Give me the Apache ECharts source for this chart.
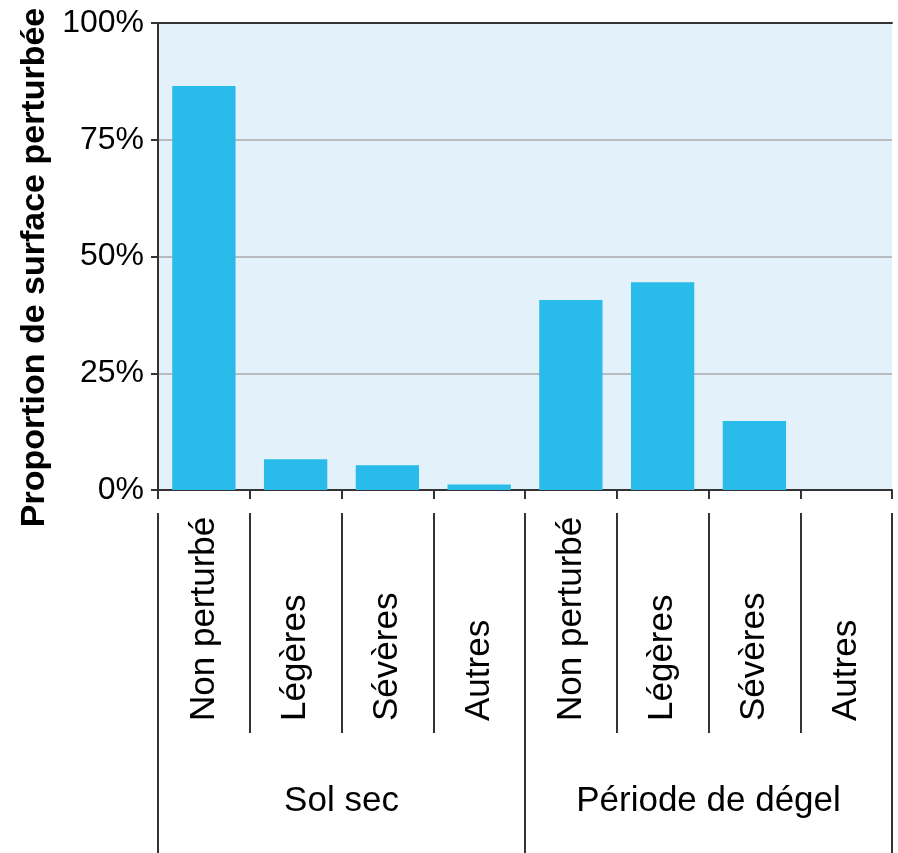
<!DOCTYPE html>
<html><head><meta charset="utf-8">
<script src="https://cdn.jsdelivr.net/npm/echarts@6/dist/echarts.min.js"></script>
<style>html,body{margin:0;padding:0;background:#fff}#c{width:898px;height:853px}</style>
</head><body><div id="c"></div>
<script>
const categories = ['Non perturbé','Légères','Sévères','Autres','Non perturbé','Légères','Sévères','Autres'];
const groups = ['Sol sec','Période de dégel'];
const solSec = [86.5, 6.6, 5.3, 1.2];
const degel = [40.7, 44.5, 14.8, 0];
const yTicks = [0, 25, 50, 75, 100];
const values = solSec.concat(degel);

const font = 'Liberation Sans, Arial, Helvetica, sans-serif';
const dark = '#333333';
const chart = echarts.init(document.getElementById('c'));
chart.setOption({
  animation: false,
  textStyle: {fontFamily: font},
  grid: {left: 158, top: 23, right: 6, bottom: 363, show: true, backgroundColor: '#e3f2fa', borderWidth: 0},
  xAxis: [
    {type: 'category', data: categories, position: 'bottom', gridIndex: 0,
     axisLine: {lineStyle: {color: dark, width: 2}},
     axisTick: {show: true, length: 9, interval: 0, lineStyle: {color: dark, width: 2}},
     axisLabel: {interval: 0, rotate: 90, align: 'left', verticalAlign: 'middle', margin: 231,
                 fontSize: 35, color: '#000', fontFamily: font}},
    {type: 'category', data: categories, position: 'bottom', offset: 23, gridIndex: 0,
     axisLine: {show: false},
     axisTick: {show: true, length: 220, interval: 0, lineStyle: {color: dark, width: 2}},
     axisLabel: {show: false}},
    {type: 'category', data: groups, position: 'bottom', offset: 23, gridIndex: 0,
     axisLine: {show: false},
     axisTick: {show: true, length: 345, interval: 0, lineStyle: {color: dark, width: 2}},
     axisLabel: {interval: 0, margin: 288, verticalAlign: 'middle', fontSize: 35, color: '#000', fontFamily: font}},
    {type: 'category', data: categories, position: 'top', gridIndex: 0,
     axisLine: {show: true, lineStyle: {color: dark, width: 2}},
     axisTick: {show: false}, axisLabel: {show: false}}
  ],
  yAxis: {
    type: 'value', min: yTicks[0], max: yTicks[yTicks.length - 1], interval: 25,
    name: 'Proportion de surface perturbée', nameLocation: 'middle', nameRotate: 90, nameGap: 106,
    nameTextStyle: {fontSize: 34, fontWeight: 'bold', color: '#000', fontFamily: font, padding: [0, 22, 0, 0]},
    axisLine: {show: true, lineStyle: {color: dark, width: 2}},
    axisTick: {show: true, length: 7, lineStyle: {color: dark, width: 2}},
    axisLabel: {formatter: '{value}%', fontSize: 32, color: '#000', margin: 14, fontFamily: font},
    splitLine: {show: true, lineStyle: {color: '#a8a8a8', width: 1.5}}
  },
  series: [{type: 'bar', data: values, xAxisIndex: 0, barCategoryGap: '31%',
            itemStyle: {color: '#29bbea'}}]
});
</script></body></html>
